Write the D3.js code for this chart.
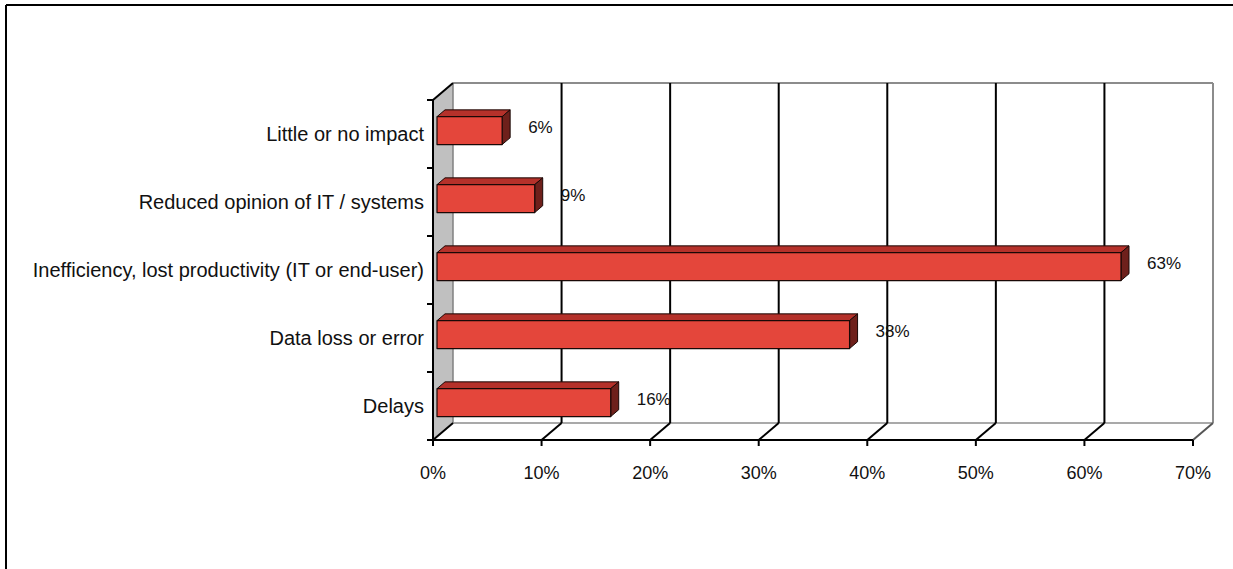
<!DOCTYPE html>
<html>
<head>
<meta charset="utf-8">
<script src="https://cdn.jsdelivr.net/npm/d3@7/dist/d3.min.js"></script>
<style>
  html, body { margin: 0; padding: 0; background: #fff; }
  svg { display: block; }
  text { font-family: "Liberation Sans", Arial, sans-serif; fill: #111; }
</style>
</head>
<body>
<svg id="chart" width="1233" height="569"></svg>
<script>
// Impact categories, listed top to bottom
const categories = [
  "Little or no impact",
  "Reduced opinion of IT / systems",
  "Inefficiency, lost productivity (IT or end-user)",
  "Data loss or error",
  "Delays"
];
// Share of respondents, in percent
const values = [6, 9, 63, 38, 16];
// Value axis ticks
const tickValues = [0, 10, 20, 30, 40, 50, 60, 70];
const tickLabels = ["0%", "10%", "20%", "30%", "40%", "50%", "60%", "70%"];

const svg = d3.select("#chart");
const W = 1233, H = 569;

// Front plane of the plot area and the depth offset of the 3-D box
const plot = { left: 433, right: 1193, top: 100, bottom: 440 };
const DX = 20, DY = -17;

const x = d3.scaleLinear().domain([0, 70]).range([plot.left, plot.right]);
const y = d3.scaleBand().domain(categories).range([plot.top, plot.bottom]);

// project a point (value, vertical pixel, depth fraction) into screen space
const P = (v, py, d) => [x(v) + DX * d, py + DY * d];
const line = d3.line();

// outer chart frame (top and left edges)
svg.append("line").attr("x1", 6).attr("y1", 5).attr("x2", W).attr("y2", 5)
  .attr("stroke", "#000").attr("stroke-width", 2);
svg.append("line").attr("x1", 6).attr("y1", 5).attr("x2", 6).attr("y2", H)
  .attr("stroke", "#000").attr("stroke-width", 2);

const g = svg.append("g");

// left side wall
g.append("path")
  .attr("d", line([P(0, plot.top, 0), P(0, plot.top, 1), P(0, plot.bottom, 1), P(0, plot.bottom, 0)]) + "Z")
  .attr("fill", "#c0c0c0").attr("stroke", "none");
g.append("path")
  .attr("d", line([P(0, plot.top, 1), P(0, plot.bottom, 1)]))
  .attr("stroke", "#808080").attr("stroke-width", 1.5).attr("fill", "none");

// back wall outline (top and floor edges)
g.append("path")
  .attr("d", line([P(0, plot.top, 1), P(70, plot.top, 1)]))
  .attr("stroke", "#8c8c8c").attr("stroke-width", 2).attr("fill", "none");
g.append("path")
  .attr("d", line([P(0, plot.bottom, 1), P(70, plot.bottom, 1)]))
  .attr("stroke", "#8c8c8c").attr("stroke-width", 1.5).attr("fill", "none");

// vertical gridlines on the back wall and their floor diagonals
tickValues.forEach(t => {
  const last = t === 70;
  if (t > 0) {
    g.append("path")
      .attr("d", line([P(t, plot.top, 1), P(t, plot.bottom, 1)]))
      .attr("stroke", last ? "#8c8c8c" : "#000").attr("stroke-width", 2).attr("fill", "none");
  }
  g.append("path")
    .attr("d", line([P(t, plot.bottom, 0), P(t, plot.bottom, 1)]))
    .attr("stroke", last ? "#555" : "#000").attr("stroke-width", 2).attr("fill", "none");
});

// top edge of the side wall
g.append("path")
  .attr("d", line([P(0, plot.top, 0), P(0, plot.top, 1)]))
  .attr("stroke", "#000").attr("stroke-width", 2).attr("fill", "none");

// category axis (front-left edge) with ticks between bands
g.append("line").attr("x1", plot.left).attr("y1", plot.top).attr("x2", plot.left).attr("y2", plot.bottom)
  .attr("stroke", "#000").attr("stroke-width", 2);
const boundaries = categories.map(c => y(c)).concat([plot.bottom]);
g.selectAll(".ytick").data(boundaries).enter().append("line")
  .attr("x1", plot.left - 6).attr("x2", plot.left)
  .attr("y1", d => d).attr("y2", d => d)
  .attr("stroke", "#000").attr("stroke-width", 2);

// value axis (front floor edge)
g.append("line").attr("x1", plot.left).attr("y1", plot.bottom).attr("x2", plot.right).attr("y2", plot.bottom)
  .attr("stroke", "#000").attr("stroke-width", 2);
g.selectAll(".xtick").data(tickValues).enter().append("line")
  .attr("x1", d => x(d)).attr("x2", d => x(d))
  .attr("y1", plot.bottom).attr("y2", plot.bottom + 6)
  .attr("stroke", "#000").attr("stroke-width", 2);
g.selectAll(".xlab").data(tickValues).enter().append("text")
  .attr("x", d => x(d)).attr("y", plot.bottom + 39)
  .attr("text-anchor", "middle").attr("font-size", 18)
  .text((d, i) => tickLabels[i]);

// category labels
g.selectAll(".ylab").data(categories).enter().append("text")
  .attr("x", plot.left - 9).attr("y", c => y(c) + y.bandwidth() / 2)
  .attr("dy", "0.35em").attr("text-anchor", "end").attr("font-size", 20)
  .text(c => c);

// 3-D bars
const D0 = 0.2, D1 = 0.6, barFrac = 0.41;
const bars = g.selectAll(".bar").data(categories.map((c, i) => ({ c, v: values[i] })))
  .enter().append("g");
bars.each(function(d) {
  const gb = d3.select(this);
  const cy = y(d.c) + y.bandwidth() / 2;
  const h = y.bandwidth() * barFrac;
  const t = cy - h / 2, b = cy + h / 2;
  // top face
  gb.append("path")
    .attr("d", line([P(0, t, D0), P(d.v, t, D0), P(d.v, t, D1), P(0, t, D1)]) + "Z")
    .attr("fill", "#b5312a").attr("stroke", "#1a0806").attr("stroke-width", 1).attr("stroke-linejoin", "round");
  // end face
  gb.append("path")
    .attr("d", line([P(d.v, t, D0), P(d.v, t, D1), P(d.v, b, D1), P(d.v, b, D0)]) + "Z")
    .attr("fill", "#6e201b").attr("stroke", "#1a0806").attr("stroke-width", 1).attr("stroke-linejoin", "round");
  // front face
  gb.append("path")
    .attr("d", line([P(0, t, D0), P(d.v, t, D0), P(d.v, b, D0), P(0, b, D0)]) + "Z")
    .attr("fill", "#e4463b").attr("stroke", "#1a0806").attr("stroke-width", 1.2).attr("stroke-linejoin", "round");
  // value label
  const lp = P(d.v, cy, D1);
  gb.append("text")
    .attr("x", lp[0] + 18).attr("y", cy - 7)
    .attr("dy", "0.35em").attr("font-size", 17)
    .text(d.v + "%");
});
</script>
</body>
</html>
